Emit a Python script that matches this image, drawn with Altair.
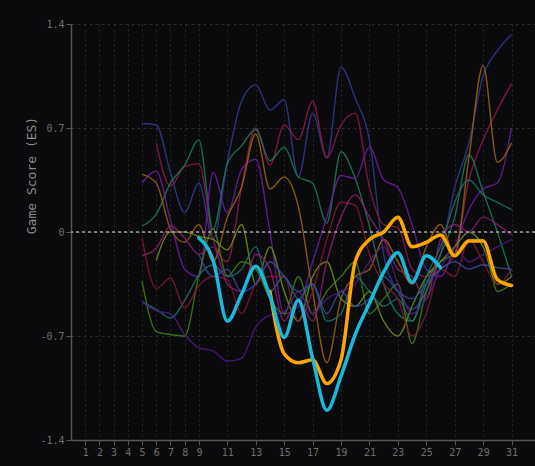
import altair as alt
import pandas as pd

# x positions (days) for the thin series
XS = list(range(5, 32))

# thin background series (values at x = 5..31, None = no data)
thin_names = ["s1", "s2", "s3", "s4", "s5", "s6", "s7", "s8", "s9", "s10", "s11", "s12"]
thin_colors = ["#2f3c92", "#8e1a48", "#1f7a57", "#6b1d9e", "#9c6212", "#3f7f14",
               "#6f8f1a", "#1c6e6a", "#7f1636", "#501a84", "#8a1f70", "#3a4aa0"]
s1 = [0.73, 0.72, 0.40, 0.13, 0.33, -0.05, 0.47, 0.88, 0.99, 0.82, 0.89, 0.37, 0.80, 0.50, 1.11,
      0.90, 0.62, -0.15, -0.40, -0.52, -0.40, -0.15, 0.30, 0.60, 1.05, 1.22, 1.33]
s2 = [None, 0.60, 0.31, 0.44, 0.46, -0.05, -0.20, 0.30, 0.70, 0.45, 0.72, 0.62, 0.88, 0.50, 0.72,
      0.80, 0.30, 0.05, 0.03, -0.25, -0.30, -0.25, -0.15, 0.35, 0.62, 0.82, 1.00]
s3 = [0.04, 0.12, 0.33, 0.45, 0.62, 0.02, 0.46, 0.58, 0.69, 0.48, 0.57, 0.37, 0.33, 0.06, 0.54,
      0.36, 0.04, -0.35, -0.55, -0.60, -0.35, -0.15, 0.10, 0.52, 0.27, 0.00, -0.30]
s4 = [0.33, 0.41, 0.08, -0.25, -0.30, 0.40, 0.13, 0.42, 0.49, 0.00, -0.55, -0.50, -0.20, 0.10, 0.38,
      0.36, 0.57, 0.35, 0.30, 0.05, -0.25, -0.30, -0.10, 0.15, 0.29, 0.33, 0.70]
s5 = [0.39, 0.33, 0.02, -0.07, 0.05, -0.20, 0.10, 0.30, 0.66, 0.29, 0.37, 0.17, -0.40, -0.88, -0.45,
      -0.30, -0.25, -0.05, -0.20, -0.35, -0.10, 0.05, -0.15, 0.50, 1.12, 0.47, 0.60]
s6 = [-0.33, -0.67, -0.69, -0.70, -0.29, 0.02, -0.30, -0.20, -0.25, -0.45, -0.55, -0.30, -0.55, -0.40, -0.30,
      -0.20, -0.55, -0.45, -0.35, -0.75, -0.40, -0.20, -0.15, -0.05, -0.05, -0.40, -0.35]
s7 = [None, -0.19, 0.00, 0.00, -0.03, -0.05, -0.12, 0.05, -0.35, -0.10, -0.40, -0.60, -0.30, -0.20, -0.45,
      -0.50, -0.40, -0.60, -0.70, -0.50, -0.30, -0.20, -0.10, 0.00, -0.10, -0.35, -0.30]
s8 = [-0.47, -0.52, -0.58, -0.46, -0.29, -0.22, -0.30, -0.25, -0.10, -0.40, -0.30, -0.45, -0.35, -0.60, -0.55,
      -0.30, -0.40, -0.50, -0.45, -0.60, -0.30, -0.10, 0.20, 0.35, 0.25, 0.20, 0.15]
s9 = [-0.04, -0.38, -0.31, -0.51, -0.36, -0.30, -0.32, -0.55, -0.35, -0.30, -0.30, -0.60, -0.40, -0.05, 0.20,
      0.18, -0.15, -0.35, -0.45, -0.70, -0.55, -0.25, -0.30, -0.05, -0.20, -0.35, -0.25]
s10 = [-0.47, -0.53, -0.55, -0.69, -0.78, -0.80, -0.87, -0.85, -0.64, -0.56, -0.54, -0.40, -0.55, -0.45, -0.40,
       -0.35, -0.20, -0.10, -0.35, -0.55, -0.45, -0.25, -0.10, -0.20, -0.15, -0.10, -0.05]
s11 = [-0.16, -0.11, 0.04, -0.04, -0.15, -0.10, -0.35, -0.40, -0.15, -0.25, -0.60, -0.45, -0.60, -0.20, 0.10,
       0.25, 0.10, -0.05, -0.25, -0.30, -0.45, -0.05, 0.05, 0.00, 0.10, 0.05, -0.02]
s12 = [None, None, None, None, -0.15, -0.30, -0.25, -0.40, -0.35, -0.20, -0.30, -0.40, -0.35, -0.55, -0.40,
       -0.50, -0.45, -0.30, -0.40, -0.45, -0.35, -0.25, -0.20, -0.25, -0.22, -0.24, -0.25]
thin_values = [s1, s2, s3, s4, s5, s6, s7, s8, s9, s10, s11, s12]

# highlighted series
cyan_x = list(range(9, 27))
cyan_y = [-0.04, -0.19, -0.60, -0.42, -0.23, -0.43, -0.71, -0.46, -0.85, -1.20, -0.97, -0.69,
          -0.48, -0.27, -0.14, -0.34, -0.16, -0.24]
orange_x = list(range(14, 32))
orange_y = [-0.40, -0.82, -0.88, -0.86, -1.02, -0.86, -0.20, -0.05, 0.00, 0.10, -0.10, -0.07,
            -0.02, -0.16, -0.06, -0.06, -0.32, -0.36]

# tick labels
x_ticks = [1, 2, 3, 4, 5, 6, 7, 8, 9, 11, 13, 15, 17, 19, 21, 23, 25, 27, 29, 31]
y_ticks = [-1.4, -0.7, 0, 0.7, 1.4]

rows = []
for name, vals in zip(thin_names, thin_values):
    for xv, yv in zip(XS, vals):
        if yv is not None:
            rows.append({"series": name, "x": xv, "y": yv})
thin_df = pd.DataFrame(rows)
cyan_df = pd.DataFrame({"x": cyan_x, "y": cyan_y})
orange_df = pd.DataFrame({"x": orange_x, "y": orange_y})
zero_df = pd.DataFrame({"y": [0]})

FONT = "DejaVu Sans Mono"

x_scale = alt.Scale(domain=[0, 32.65], nice=False, zero=False)
y_scale = alt.Scale(domain=[-1.4, 1.4], nice=False, zero=False)

x_enc = alt.X("x:Q", scale=x_scale,
              axis=alt.Axis(values=x_ticks, title=None, grid=True, gridDash=[2, 3],
                            gridColor="#2a2a2c", domainColor="#555555", domainWidth=1.5,
                            tickColor="#555555", tickSize=5, labelColor="#6e6e6e",
                            labelFont=FONT, labelFontSize=10, labelPadding=2,
                            labelOverlap=False, labelFlush=False))
y_enc = alt.Y("y:Q", scale=y_scale,
              axis=alt.Axis(values=y_ticks, title="Game Score (ES)", grid=True, gridDash=[3, 3],
                            gridColor="#2c2c2e", domainColor="#555555", domainWidth=1.5,
                            tickColor="#555555", tickSize=5, labelColor="#6e6e6e",
                            labelFont=FONT, labelFontSize=10, labelPadding=2,
                            labelOverlap=False,
                            labelExpr="datum.value == 0 ? '0' : toString(datum.value)",
                            titleFont=FONT, titleFontSize=13, titleFontWeight="normal",
                            titleColor="#8a8a8a", titleX=-40, titleY=151, titleAngle=-90,
                            titleAlign="center", titleBaseline="middle"))

thin = alt.Chart(thin_df).mark_line(interpolate="monotone", strokeWidth=1.4, opacity=0.85).encode(
    x=x_enc, y=y_enc,
    color=alt.Color("series:N", scale=alt.Scale(domain=thin_names, range=thin_colors), legend=None),
    detail="series:N",
)
zero = alt.Chart(zero_df).mark_rule(color="#a0a0a0", strokeDash=[3, 3], strokeWidth=1.3).encode(
    y=alt.Y("y:Q", scale=y_scale))
orange = alt.Chart(orange_df).mark_line(interpolate="monotone", strokeWidth=3.5, color="#ffa600",
                                         strokeCap="round").encode(x=x_enc, y=y_enc)
cyan = alt.Chart(cyan_df).mark_line(interpolate="monotone", strokeWidth=3.5, color="#1ab9dc",
                                     strokeCap="round").encode(x=x_enc, y=y_enc)

chart = alt.layer(thin, zero, orange, cyan).properties(
    width=464, height=416,
    padding={"left": 71, "top": 24, "right": 0, "bottom": 24},
    autosize=alt.AutoSizeParams(type="none"),
    background="#0b0b0d",
).configure_view(stroke=None).configure_axisX(labelOverlap=False)

chart.save("out.html", embed_options={
    "renderer": "svg", "actions": False,
    "defaultStyle": "html, body { margin: 0; padding: 0; background: #0b0b0d; overflow: hidden; }",
})
